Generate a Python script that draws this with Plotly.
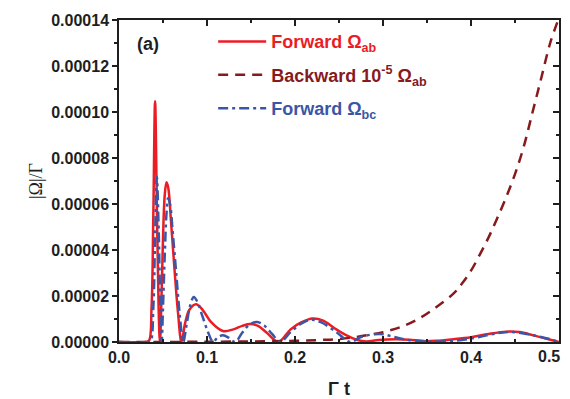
import plotly.graph_objects as go

# Forward Omega_ab (red, solid)
t_fwd_ab = [0.000, 0.030, 0.034, 0.037, 0.039, 0.041, 0.043, 0.045, 0.0465, 0.048, 0.050, 0.052,
            0.054, 0.056, 0.059, 0.063, 0.067, 0.071, 0.075, 0.080, 0.0875, 0.095, 0.105, 0.118,
            0.130, 0.140, 0.149, 0.158, 0.168, 0.181, 0.195, 0.207, 0.220, 0.232, 0.245, 0.258,
            0.270, 0.281, 0.295, 0.315, 0.330, 0.345, 0.360, 0.380, 0.400, 0.420, 0.440, 0.455,
            0.470, 0.485, 0.500]
y_fwd_ab = [0, 0, 0.5e-6, 1.5e-5, 5.5e-5, 1.047e-4, 6.0e-5, 1.5e-5, 0, 1.5e-5, 4.5e-5, 6.4e-5,
            6.95e-5, 6.7e-5, 5.3e-5, 3.2e-5, 1.3e-5, 0, 8e-6, 1.4e-5, 1.64e-5, 1.4e-5, 8.5e-6, 4.8e-6,
            5.5e-6, 7.0e-6, 7.8e-6, 7.0e-6, 4.0e-6, 0, 5.5e-6, 8.5e-6, 1.02e-5, 9.3e-6, 6.0e-6, 3.0e-6,
            1.0e-6, 0.2e-6, 0.9e-6, 1.2e-6, 1.0e-6, 0.4e-6, 0.5e-6, 1.2e-6, 2.1e-6, 3.5e-6, 4.5e-6, 4.3e-6,
            3.0e-6, 1.5e-6, 0]

# Backward 1e-5 Omega_ab (dark red, dashed)
t_bwd_ab = [0.000, 0.100, 0.200, 0.230, 0.250, 0.270, 0.300, 0.320, 0.340, 0.360, 0.380, 0.390,
            0.400, 0.410, 0.420, 0.430, 0.440, 0.450, 0.460, 0.470, 0.480, 0.490, 0.500]
y_bwd_ab = [0, 1e-7, 5e-7, 9e-7, 1.3e-6, 2.2e-6, 4.3e-6, 6.5e-6, 1.0e-5, 1.5e-5, 2.1e-5, 2.55e-5,
            3.1e-5, 3.8e-5, 4.55e-5, 5.4e-5, 6.3e-5, 7.3e-5, 8.5e-5, 1.0e-4, 1.15e-4, 1.3e-4, 1.41e-4]

# Forward Omega_bc (blue, dash-dot)
t_fwd_bc = [0.000, 0.033, 0.036, 0.039, 0.041, 0.043, 0.045, 0.047, 0.0485, 0.050, 0.052, 0.054,
            0.0557, 0.058, 0.061, 0.065, 0.069, 0.073, 0.077, 0.081, 0.085, 0.089, 0.095, 0.101,
            0.107, 0.112, 0.118, 0.125, 0.132, 0.140, 0.148, 0.157, 0.165, 0.174, 0.183, 0.195,
            0.207, 0.218, 0.230, 0.247, 0.263, 0.275, 0.296, 0.310, 0.325, 0.340, 0.360, 0.380,
            0.400, 0.418, 0.433, 0.444, 0.460, 0.475, 0.490, 0.500]
y_fwd_bc = [0, 0, 0.5e-6, 1.5e-5, 4.5e-5, 7.18e-5, 5.0e-5, 1.5e-5, 0, 1.5e-5, 3.8e-5, 5.6e-5,
            6.25e-5, 6.0e-5, 4.8e-5, 3.0e-5, 1.2e-5, 0, 8e-6, 1.6e-5, 1.96e-5, 1.75e-5, 1.1e-5, 4.5e-6,
            0, 2.0e-6, 2.9e-6, 1.8e-6, 0, 4e-6, 7.5e-6, 8.7e-6, 7.2e-6, 3.5e-6, 0, 4.3e-6,
            8.0e-6, 9.7e-6, 8.5e-6, 4.3e-6, 0, 2.2e-6, 3.5e-6, 2.5e-6, 1.1e-6, 0.5e-6, 0.2e-6, 0.5e-6,
            1.5e-6, 2.9e-6, 4.0e-6, 4.35e-6, 3.7e-6, 2.6e-6, 1.2e-6, 0]

x_tick_vals = [0.0, 0.1, 0.2, 0.3, 0.4, 0.5]
x_tick_text = ["0.0", "0.1", "0.2", "0.3", "0.4", "0.5"]
y_tick_vals = [0, 0.00002, 0.00004, 0.00006, 0.00008, 0.00010, 0.00012, 0.00014]
y_tick_text = ["0.00000", "0.00002", "0.00004", "0.00006", "0.00008", "0.00010", "0.00012", "0.00014"]

RED = "#ec1c24"
DARK = "#861a1c"
BLUE = "#3b56a6"
INK = "#1e1e1e"
FONT = "Liberation Sans"


def bold(labels):
    return ["<b>%s</b>" % s for s in labels]


def colored(text, color):
    return "<span style='color:%s'><b>%s</b></span>" % (color, text)


fig = go.Figure()
fig.add_trace(go.Scatter(x=t_fwd_ab, y=y_fwd_ab, mode="lines", line_shape="spline",
                         line=dict(color=RED, width=2.5), legendgroup="g1",
                         name=colored("Forward Ω<sub>ab</sub>", RED)))
fig.add_trace(go.Scatter(x=t_bwd_ab, y=y_bwd_ab, mode="lines", line_shape="spline",
                         line=dict(color=DARK, width=2.5, dash="10px,7px"), legendgroup="g2",
                         name=colored("Backward 10<sup>-5</sup> Ω<sub>ab</sub>", DARK)))
fig.add_trace(go.Scatter(x=t_fwd_bc, y=y_fwd_bc, mode="lines", line_shape="spline",
                         line=dict(color=BLUE, width=2.5, dash="10px,4px,3px,4px"), legendgroup="g3",
                         name=colored("Forward Ω<sub>bc</sub>", BLUE)))
# right axis (inside ticks)
fig.add_trace(go.Scatter(x=[], y=[], yaxis="y2", showlegend=False, hoverinfo="skip"))

# last x tick label is drawn as an annotation so it stays inside the page, as in the original
x_text_main = bold(x_tick_text[:-1]) + [""]

# the page body adds an 8px offset, so the figure is 8px smaller than the window
fig.update_layout(
    width=562, height=391,
    margin=dict(l=111, r=11, t=12, b=57, autoexpand=False),
    paper_bgcolor="white", plot_bgcolor="white",
    font=dict(family=FONT, size=16, color=INK),
    showlegend=True,
    legend=dict(x=0.214, y=0.99, xanchor="left", yanchor="top",
                bgcolor="rgba(0,0,0,0)", font=dict(size=18, family=FONT),
                tracegroupgap=7, itemwidth=48),
    xaxis=dict(range=[0, 0.5], tickvals=x_tick_vals, ticktext=x_text_main,
               ticks="inside", ticklen=6, tickwidth=1.5, tickcolor=INK, automargin=False,
               minor=dict(ticks="inside", dtick=0.05, tick0=0, ticklen=3, tickwidth=1.5, tickcolor=INK),
               showline=True, linecolor=INK, linewidth=1.5, mirror="ticks",
               showgrid=False, zeroline=False,
               tickfont=dict(size=16, family=FONT, color=INK),
               title=dict(text="<b>Γ t</b>", font=dict(size=18, family=FONT, color=INK), standoff=21)),
    yaxis=dict(range=[0, 0.00014], tickvals=y_tick_vals, ticktext=bold(y_tick_text),
               ticks="outside", ticklen=5, tickwidth=1.5, tickcolor=INK, automargin=False,
               ticklabeloverflow="allow",
               minor=dict(ticks="outside", dtick=0.00001, tick0=0, ticklen=3, tickwidth=1.5, tickcolor=INK),
               showline=True, linecolor=INK, linewidth=1.5, mirror=True,
               showgrid=False, zeroline=False,
               tickfont=dict(size=16, family=FONT, color=INK),
               title=dict(text="|Ω|/Γ", font=dict(size=18, family="Liberation Serif", color=INK), standoff=4)),
    yaxis2=dict(range=[0, 0.00014], overlaying="y", side="right", showticklabels=False,
                dtick=0.00002, tick0=0, ticks="inside", ticklen=6, tickwidth=1.5, tickcolor=INK,
                automargin=False,
                minor=dict(ticks="inside", dtick=0.00001, tick0=0, ticklen=3, tickwidth=1.5, tickcolor=INK),
                showgrid=False, zeroline=False, showline=False),
    annotations=[
        dict(text="<b>(a)</b>", x=0.066, y=0.925, xref="paper", yref="paper",
             xanchor="center", yanchor="middle",
             showarrow=False, font=dict(size=18, family=FONT, color=INK)),
        dict(text="<b>%s</b>" % x_tick_text[-1], x=x_tick_vals[-1], y=0, xref="x", yref="paper",
             xanchor="right", yanchor="top", xshift=3, yshift=-4,
             showarrow=False, font=dict(size=16, family=FONT, color=INK)),
    ],
)

fig.write_html("out.html")
